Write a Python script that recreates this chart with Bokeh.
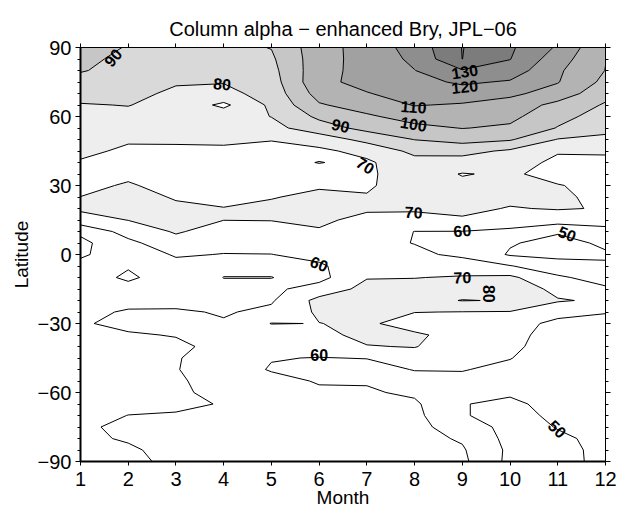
import numpy as np
from bokeh.plotting import figure
from bokeh.models import LinearAxis, FixedTicker, Range1d
from bokeh.core.properties import value
from bokeh.embed import file_html
from bokeh.resources import INLINE

# ---------------- data ----------------
months = [1, 2, 3, 4, 5, 6, 7, 8, 9, 10, 11, 12]
# latitude rows, north to south (every 5 degrees)
lats = [90, 85, 80, 75, 70, 65, 60, 55, 50, 45, 40, 35, 30, 25, 20, 15, 10, 5, 0,
        -5, -10, -15, -20, -25, -30, -35, -40, -45, -50, -55, -60, -65, -70, -75, -80, -85, -90]

# column alpha per month, one value per latitude row (north -> south)
jan = [93.3, 91.5, 90.5, 87.5, 83.5, 79.4, 77.5, 76, 74.5, 72, 69.2, 67.5, 67.5, 70.1, 71.5, 66, 52, 47.5, 49,
       52, 53, 54, 55.5, 57.5, 59, 58, 57, 56, 55.5, 55.5, 56, 56.5, 57.5, 58.5, 58, 57, 56]
feb = [89.5, 88.5, 87.5, 85.5, 83, 80.3, 77.5, 75, 71, 68.5, 66.5, 68, 71, 73, 72.5, 70.2, 64, 57.5, 54,
       50.5, 49, 52, 57, 61, 62.5, 59, 57, 56, 55.5, 55.5, 56.5, 58, 60.1, 62, 61, 58.5, 57]
mar = [87, 86, 84, 81, 78, 76.5, 75.5, 74, 71.5, 68, 66, 65.5, 66.5, 69.3, 71.5, 73, 71, 66.5, 61,
       57, 53.2, 54, 57, 61.2, 63, 60.5, 58, 59.5, 59.7, 59, 58.5, 59.3, 60.3, 62.5, 63.5, 63.5, 63]
apr = [87.5, 86, 84, 80.5, 77, 68, 75.5, 74.5, 72, 68, 65.5, 64, 64, 66, 70.5, 70.1, 66, 63, 59.7,
       58, 60.15, 58, 58.5, 59.2, 60.8, 62, 63, 63.5, 63.5, 63, 62.5, 60.2, 63, 64, 64.5, 64.5, 64]
may = [90.3, 88.5, 87, 85.5, 84, 82, 80.2, 77, 70.3, 68, 68, 66.5, 67.5, 69.5, 72, 70.3, 66, 62.5, 59.9,
       58, 60.15, 58, 59, 62, 70.3, 64, 61.5, 60.3, 59.5, 62, 64, 65, 65.5, 66, 66, 65.5, 65]
jun = [106, 106, 106.5, 107.5, 104, 99, 92, 85.5, 74.5, 68, 70.2, 67.5, 69, 72, 73.5, 72, 69, 65.5, 62,
       59, 57, 64, 73, 71.5, 69.85, 67, 63, 59.8, 57.5, 59.5, 61, 63, 64, 65, 65.5, 65.5, 65]
jul = [114, 113.8, 113.5, 113, 109.5, 104.5, 98.5, 93, 83, 73, 68.5, 68.5, 69, 70.5, 71.5, 67, 64, 62, 62,
       64.5, 69.5, 73, 75, 74, 71.5, 73, 69.5, 60.2, 57.5, 59.3, 61, 63, 64, 64.5, 65, 65, 64.5]
aug = [124, 122, 119.8, 117, 114, 110.5, 104, 97.5, 90.2, 82.5, 76.5, 75, 74, 73, 71, 67.5, 59.9, 59.8, 61.5,
       64, 69.7, 74, 77, 70.2, 66, 71.5, 70.5, 65, 60.3, 57.5, 58.5, 61.5, 62.5, 63, 63, 62.5, 62]
sep = [140.3, 140.05, 129.3, 121.5, 115.5, 109, 104.5, 100.3, 93.5, 83, 76, 69.5, 72, 73, 72, 69, 59.8, 56, 58.5,
       64, 71, 76, 80.3, 69.8, 66, 66.5, 64, 62.5, 60.4, 58, 55, 50.3, 50.5, 55, 59, 61, 62]
oct_ = [131.5, 130.3, 125.5, 119, 112, 106, 102.5, 98.5, 91, 78.5, 75, 71.5, 72, 72, 69.5, 64, 58.5, 50.8, 49,
        60.5, 72, 77, 79.5, 69.5, 65, 63, 62, 60.3, 58, 54, 51, 48.5, 47.5, 47, 47, 48, 47.5]
nov = [118.7, 114.5, 111.5, 110.5, 106, 97, 93, 89.5, 79.5, 71, 67.5, 66.5, 70.5, 72, 70.6, 65, 51, 47, 47.5,
       54, 61.5, 67, 70.8, 64, 57, 56, 55.5, 55, 54.5, 54, 53.5, 52.5, 51.5, 50.3, 49, 48.5, 48.5]
dec = [100.5, 100.3, 99.8, 97.5, 93, 89, 86, 82.5, 78, 70.8, 68.5, 67.5, 67, 67, 69.5, 64, 57, 51.5, 49,
       51, 56, 61.5, 68.5, 60.5, 57, 55.5, 55, 54.5, 54, 53.5, 53, 52.5, 52.5, 52, 51.5, 51.3, 51.2]

levels = [40, 50, 60, 70, 80, 90, 100, 110, 120, 130, 140, 150]
band_colors = ["#ffffff", "#ffffff", "#ffffff", "#eeeeee", "#d9d9d9", "#c6c6c6",
               "#b3b3b3", "#a1a1a1", "#8e8e8e", "#7c7c7c", "#7c7c7c"]

lat_ticks = [-90, -60, -30, 0, 30, 60, 90]
lat_tick_labels = ["\u221290", "\u221260", "\u221230", "0", "30", "60", "90"]
lat_minor = list(range(-90, 91, 5))

# contour labels
label_text = ["90", "80", "130", "120", "110", "100", "90", "70", "70", "60", "50",
              "60", "70", "80", "60", "50"]
label_month = [1.68, 3.97, 9.05, 9.05, 7.98, 7.98, 6.45, 6.97, 7.98, 9.0, 11.2,
               6.0, 9.0, 9.55, 6.0, 10.99]
label_lat = [85.6, 74.2, 79.6, 73.0, 64.2, 56.8, 56.1, 38.7, 18.4, 10.4, 9.0,
             -4.0, -9.9, -17.1, -43.9, -75.8]
label_angle = [50, -6, 9, 6, -4, -10, -14, -32, -2, 4, -22,
               -22, 1, -90, 0, -44]

# ---------------- figure ----------------
z = np.array([jan, feb, mar, apr, may, jun, jul, aug, sep, oct_, nov, dec], dtype=float).T[::-1]
y = np.array(lats[::-1], dtype=float)
x = np.array(months, dtype=float)

FONT = "Liberation Sans"

p = figure(frame_width=525, frame_height=414,
           x_range=Range1d(1, 12), y_range=Range1d(-90, 90),
           output_backend="svg", toolbar_location=None,
           min_border_left=80, min_border_right=12, min_border_top=47, min_border_bottom=49,
           title="Column alpha \u2212 enhanced Bry, JPL\u221206")
p.background_fill_color = "white"
p.border_fill_color = "white"
p.outline_line_color = None
p.xgrid.visible = False
p.ygrid.visible = False

p.title.text_font = FONT
p.title.text_font_size = "20px"
p.title.text_font_style = "normal"
p.title.text_color = "black"
p.title.align = "center"
p.title.standoff = 7

p.contour(x, y, z, levels=levels, fill_color=band_colors,
          line_color="black", line_width=1)

p.text(x=label_month, y=label_lat, text=label_text, angle=label_angle, angle_units="deg",
       text_font=value(FONT), text_font_style="bold", text_font_size="16px",
       text_align="center", text_baseline="middle", text_color="black")

# bottom axis
xa = p.xaxis[0]
xa.ticker = FixedTicker(ticks=months)
xa.axis_line_width = 2
xa.axis_line_color = "black"
xa.major_tick_line_color = "black"
xa.major_tick_out = 4
xa.major_tick_in = 0
xa.minor_tick_out = 0
xa.minor_tick_in = 0
xa.major_label_text_font = FONT
xa.major_label_text_font_size = "20px"
xa.major_label_text_color = "black"
xa.major_label_standoff = 6
xa.axis_label = "Month"
xa.axis_label_text_font = FONT
xa.axis_label_text_font_size = "19px"
xa.axis_label_text_font_style = "normal"
xa.axis_label_text_color = "black"
xa.axis_label_standoff = -2

# left axis
ya = p.yaxis[0]
ya.ticker = FixedTicker(ticks=lat_ticks, minor_ticks=lat_minor)
ya.major_label_overrides = dict(zip(lat_ticks, lat_tick_labels))
ya.axis_line_width = 2
ya.axis_line_color = "black"
ya.major_tick_line_color = "black"
ya.minor_tick_line_color = "black"
ya.major_tick_out = 5
ya.major_tick_in = 0
ya.minor_tick_out = 3
ya.minor_tick_in = 0
ya.major_label_text_font = FONT
ya.major_label_text_font_size = "20px"
ya.major_label_text_color = "black"
ya.major_label_standoff = 4
ya.axis_label = "Latitude"
ya.axis_label_text_font = FONT
ya.axis_label_text_font_size = "19px"
ya.axis_label_text_font_style = "normal"
ya.axis_label_text_color = "black"
ya.axis_label_standoff = 3

# top axis (ticks only, labels left empty)
ta = LinearAxis(ticker=FixedTicker(ticks=months), axis_line_width=1,
                axis_line_color="black", major_tick_line_color="black",
                major_tick_out=4, major_tick_in=0, minor_tick_out=0, minor_tick_in=0,
                major_label_overrides={m: "" for m in months}, major_label_standoff=0)
p.add_layout(ta, "above")

# right axis (ticks only, labels left empty)
ra = LinearAxis(ticker=FixedTicker(ticks=lat_ticks, minor_ticks=lat_minor), axis_line_width=1,
                axis_line_color="black", major_tick_line_color="black", minor_tick_line_color="black",
                major_tick_out=5, major_tick_in=0, minor_tick_out=3, minor_tick_in=0,
                major_label_overrides={t: "" for t in lat_ticks}, major_label_standoff=0)
p.add_layout(ra, "right")

open("out.html", "w").write(file_html(p, INLINE))
